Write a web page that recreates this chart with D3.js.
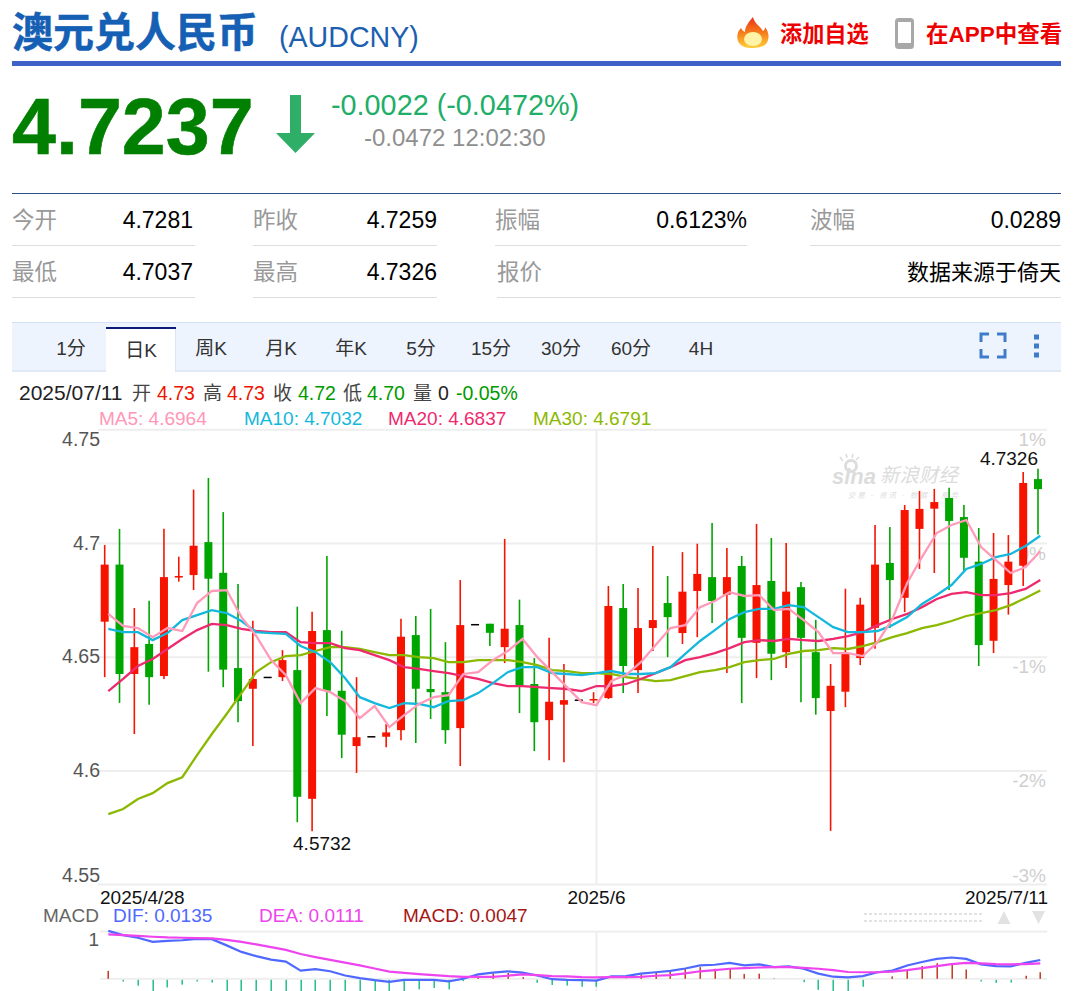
<!DOCTYPE html>
<html lang="zh-CN">
<head>
<meta charset="utf-8">
<title>澳元兑人民币 (AUDCNY)</title>
<script src="https://cdnjs.cloudflare.com/ajax/libs/d3/7.9.0/d3.min.js"></script>
<style>
  html, body { margin: 0; padding: 0; background: #fff; overflow: hidden; }
  svg { display: block; }
  text { font-family: "Liberation Sans", "Noto Sans CJK SC", sans-serif; }
</style>
</head>
<body>
<div id="quote"></div>
<script>
// Daily candles, oldest first
const candleOpen = [4.6654,4.6905,4.6424,4.6556,4.6415,4.6848,4.6859,4.7004,4.6869,4.6450,4.6359,4.6412,4.6410,4.6441,4.5875,4.6617,4.6350,4.6107,4.6151,4.6148,4.6177,4.6595,4.6358,4.6344,4.6186,4.6644,4.6645,4.6542,4.6639,4.6380,4.6221,4.6289,4.6312,4.6309,4.6318,4.6714,4.6441,4.6626,4.6736,4.6604,4.6789,4.6850,4.6773,4.6899,4.6561,4.6833,4.6520,4.6806,4.6520,4.6261,4.6346,4.6494,4.6627,4.6912,4.6759,4.7062,4.7151,4.7198,4.7114,4.6918,4.6570,4.6815,4.6900,4.7281];
const candleClose = [4.6905,4.6424,4.6542,4.6410,4.6850,4.6855,4.6988,4.6843,4.6443,4.6305,4.6402,4.6412,4.6485,4.5884,4.6613,4.6350,4.6157,4.6146,4.6151,4.6167,4.6588,4.6359,4.6344,4.6177,4.6639,4.6644,4.6605,4.6623,4.6375,4.6212,4.6302,4.6309,4.6312,4.6314,4.6723,4.6459,4.6626,4.6661,4.6674,4.6786,4.6864,4.6745,4.6850,4.6583,4.6815,4.6513,4.6786,4.6583,4.6318,4.6372,4.6512,4.6729,4.6905,4.6837,4.7145,4.7150,4.7180,4.7097,4.6935,4.6551,4.6842,4.6918,4.7264,4.7237];
const candleHigh = [4.6991,4.7062,4.6714,4.6746,4.7063,4.6940,4.7235,4.7286,4.7136,4.6820,4.6658,4.6412,4.6529,4.6720,4.6698,4.6943,4.6614,4.6410,4.6151,4.6204,4.6667,4.6679,4.6710,4.6564,4.6837,4.6644,4.6645,4.7018,4.6751,4.6494,4.6583,4.6468,4.6312,4.6344,4.6811,4.6820,4.6802,4.6987,4.6855,4.6960,4.6997,4.7088,4.6978,4.6943,4.7084,4.7022,4.7000,4.6828,4.6662,4.6468,4.6799,4.6759,4.7079,4.7070,4.7167,4.7229,4.7238,4.7243,4.7167,4.7066,4.7044,4.7035,4.7312,4.7326];
const candleLow = [4.6410,4.6297,4.6160,4.6289,4.6402,4.6830,4.6793,4.6434,4.6366,4.6212,4.6107,4.6412,4.6393,4.5772,4.5732,4.6239,4.6054,4.5989,4.6151,4.6102,4.6133,4.6120,4.6226,4.6117,4.6019,4.6644,4.6547,4.6472,4.6252,4.6085,4.6045,4.6036,4.6312,4.6296,4.6314,4.6340,4.6340,4.6525,4.6498,4.6556,4.6586,4.6648,4.6428,4.6296,4.6406,4.6397,4.6450,4.6300,4.6245,4.5734,4.6278,4.6463,4.6535,4.6626,4.6696,4.6886,4.6868,4.6793,4.6874,4.6459,4.6516,4.6685,4.6811,4.7037];

// Moving averages of the close
const ma5 = [4.6688,4.6635,4.6626,4.6586,4.6626,4.6613,4.6736,4.6789,4.6793,4.6674,4.6591,4.6485,4.6419,4.6296,4.6362,4.6344,4.6305,4.6230,4.6283,4.6190,4.6243,4.6292,4.6322,4.6331,4.6424,4.6432,4.6485,4.6525,4.6578,4.6498,4.6432,4.6366,4.6300,4.6287,4.6393,4.6419,4.6476,4.6551,4.6626,4.6639,4.6718,4.6745,4.6784,4.6767,4.6771,4.6705,4.6710,4.6661,4.6608,4.6516,4.6516,4.6503,4.6564,4.6666,4.6824,4.6938,4.7044,4.7079,4.7101,4.6982,4.6925,4.6868,4.6894,4.6964];
const ma10 = [4.6622,4.6608,4.6608,4.6573,4.6604,4.6661,4.6683,4.6705,4.6692,4.6657,4.6608,4.6604,4.6600,4.6547,4.6520,4.6476,4.6406,4.6322,4.6296,4.6274,4.6296,4.6292,4.6278,4.6305,4.6309,4.6340,4.6384,4.6432,4.6454,4.6454,4.6428,4.6424,4.6419,4.6428,4.6437,4.6424,4.6424,4.6428,4.6454,4.6512,4.6569,4.6617,4.6666,4.6696,4.6710,4.6710,4.6727,4.6718,4.6674,4.6630,4.6608,4.6608,4.6613,4.6639,4.6674,4.6732,4.6771,4.6815,4.6886,4.6908,4.6938,4.6952,4.6987,4.7032];
const ma20 = [4.6349,4.6402,4.6459,4.6490,4.6534,4.6578,4.6617,4.6644,4.6639,4.6622,4.6613,4.6608,4.6608,4.6564,4.6560,4.6560,4.6538,4.6529,4.6507,4.6485,4.6454,4.6446,4.6437,4.6428,4.6415,4.6402,4.6384,4.6371,4.6371,4.6366,4.6362,4.6358,4.6349,4.6371,4.6371,4.6380,4.6402,4.6428,4.6454,4.6485,4.6498,4.6516,4.6538,4.6564,4.6573,4.6569,4.6578,4.6573,4.6569,4.6578,4.6591,4.6608,4.6639,4.6666,4.6688,4.6718,4.6754,4.6776,4.6784,4.6771,4.6771,4.6780,4.6798,4.6837];
const ma30 = [4.5808,4.5830,4.5874,4.5900,4.5944,4.5970,4.6067,4.6160,4.6248,4.6340,4.6432,4.6476,4.6503,4.6507,4.6525,4.6542,4.6542,4.6534,4.6520,4.6507,4.6507,4.6498,4.6494,4.6476,4.6476,4.6485,4.6485,4.6485,4.6476,4.6463,4.6441,4.6437,4.6428,4.6428,4.6424,4.6410,4.6402,4.6393,4.6397,4.6415,4.6432,4.6441,4.6454,4.6476,4.6485,4.6490,4.6512,4.6525,4.6529,4.6538,4.6534,4.6547,4.6564,4.6586,4.6604,4.6626,4.6639,4.6657,4.6679,4.6692,4.6705,4.6727,4.6758,4.6791];

// MACD panel, in units of 0.0001
const dif = [344,314,295,265,272,277,287,285,240,193,163,138,124,59,69,54,24,5,-10,-22,-8,-8,-8,-18,0,32,44,54,44,24,-3,-8,-10,-13,17,19,37,47,57,74,96,101,114,96,104,84,89,72,37,15,10,19,47,59,96,121,143,153,143,104,91,89,114,135];
const dea = [319,314,309,302,297,295,292,290,280,265,247,228,208,178,156,136,116,96,74,52,42,34,27,19,14,14,14,22,32,27,19,17,12,10,12,12,14,22,27,39,54,62,72,77,81,84,84,79,72,62,49,47,47,52,62,77,91,106,114,111,106,104,106,111];
const macdHist = [57,-12,-42,-84,-55,-35,-12,-20,-84,-149,-173,-183,-173,-243,-178,-168,-188,-188,-173,-154,-84,-69,-59,-69,-10,17,37,42,12,-22,-37,-42,-50,-50,0,2,30,42,55,72,84,72,74,35,37,3,0,-17,-72,-94,-87,-50,0,17,67,92,112,102,67,-12,-22,-20,22,47];

// Axis and label text
const priceTicks = [4.75, 4.7, 4.65, 4.6, 4.55];
const percentLabels = ["1%", "0%", "-1%", "-2%", "-3%"];
const dateLabels = [{ i: 0, text: "2025/4/28" }, { i: 33, text: "2025/6" }, { i: 63, text: "2025/7/11" }];
const tabLabels = ["1分", "日K", "周K", "月K", "年K", "5分", "15分", "30分", "60分", "4H"];
const statsRows = [
  [["今开", "4.7281", 12, 193], ["昨收", "4.7259", 253, 437], ["振幅", "0.6123%", 495, 747], ["波幅", "0.0289", 810, 1061]],
  [["最低", "4.7037", 12, 193], ["最高", "4.7326", 253, 437], ["报价", "数据来源于倚天", 497, 1061]]
];
const maLegend = [
  ["MA5: 4.6964", 99, "#ff96b9"], ["MA10: 4.7032", 244, "#14b8dc"],
  ["MA20: 4.6837", 388, "#ee2a6e"], ["MA30: 4.6791", 533, "#8bb800"]
];
const macdLegend = [
  ["MACD", 43, "#666"], ["DIF: 0.0135", 113, "#4f68ff"],
  ["DEA: 0.0111", 259, "#ee44ee"], ["MACD: 0.0047", 403, "#a51515"]
];
const dayInfo = [
  ["2025/07/11", 19, "#222", 21], ["开", 132, "#444", 19], ["4.73", 157, "#f01400", 19.5],
  ["高", 203, "#444", 19], ["4.73", 227, "#f01400", 19.5], ["收", 273, "#444", 19],
  ["4.72", 298, "#009a00", 19.5], ["低", 343, "#444", 19], ["4.70", 367, "#009a00", 19.5],
  ["量", 413, "#444", 19], ["0", 438, "#222", 19.5], ["-0.05%", 456, "#009a00", 19.5]
];

const RED = "#f61400", GREEN = "#00a600", GRID = "#eeeeee";
const svg = d3.select("#quote").append("svg").attr("width", 1080).attr("height", 991);

const label = (g, t, x, y, size, fill, o = {}) => g.append("text")
  .attr("x", x).attr("y", y).attr("font-size", size).attr("fill", fill)
  .attr("text-anchor", o.anchor || "start").attr("font-weight", o.weight || "normal").text(t);

// ---- Page header ----
const head = svg.append("g");
label(head, "澳元兑人民币", 12, 47, 41, "#1560b4", { weight: "bold" }).attr("stroke", "#1560b4").attr("stroke-width", 0.5);
label(head, "(AUDCNY)", 279, 47, 28.6, "#1c5fb0");
head.append("rect").attr("x", 12).attr("y", 61).attr("width", 1049).attr("height", 5).attr("fill", "#3f62c9");

const defs = svg.append("defs");
const flame = defs.append("linearGradient").attr("id", "flame").attr("x1", 0).attr("y1", 1).attr("x2", 0).attr("y2", 0);
flame.append("stop").attr("offset", "0").attr("stop-color", "#ffcf3a");
flame.append("stop").attr("offset", "0.55").attr("stop-color", "#f5741a");
flame.append("stop").attr("offset", "1").attr("stop-color", "#e8321a");
head.append("path").attr("fill", "url(#flame)")
  .attr("d", "M753 17c1 6 7 9 10 14 2-1 2-3 2-4 4 5 5 12 1 17-3 3-7 4-13 4-7 0-11-1-14-5-3-5-2-11 2-15 1 2 2 3 4 4 0-6 4-10 8-15z");
head.append("ellipse").attr("cx", 753).attr("cy", 39).attr("rx", 9).attr("ry", 7).attr("fill", "#fff3a8");
label(head, "添加自选", 780, 42, 22.2, "#ee0000", { weight: "bold" });
head.append("rect").attr("x", 895).attr("y", 18).attr("width", 19).attr("height", 31).attr("rx", 3.5).attr("fill", "#a8a8a8");
head.append("rect").attr("x", 898).attr("y", 22).attr("width", 13).attr("height", 21).attr("fill", "#fff");
label(head, "在APP中查看", 926, 42, 22.5, "#ee0000", { weight: "bold" });

label(head, "4.7237", 12, 154, 79, "#007f00", { weight: "bold" }).attr("stroke", "#007f00").attr("stroke-width", 0.6);
head.append("path").attr("fill", "#2fae67")
  .attr("d", "M290 95h11v38h14l-19.5 20-19.5-20h14z");
label(head, "-0.0022 (-0.0472%)", 331, 115, 28.8, "#20ae68");
label(head, "-0.0472 12:02:30", 364, 146, 24, "#8f8f8f");

// ---- Quote statistics ----
const stats = svg.append("g");
stats.append("rect").attr("x", 12).attr("y", 193).attr("width", 1049).attr("height", 1).attr("fill", "#2a4f8f");
[[245, 12, 195], [245, 253, 437], [245, 495, 747], [245, 810, 1061], [297, 12, 195], [297, 253, 437], [297, 497, 1061]]
  .forEach(([y, x1, x2]) => stats.append("rect").attr("x", x1).attr("y", y).attr("width", x2 - x1).attr("height", 1).attr("fill", "#dddddd"));
statsRows.forEach((row, r) => row.forEach(([name, val, x1, x2]) => {
  const y = 228 + r * 52;
  const isText = /[^\d.%]/.test(val);
  label(stats, name, x1, y, 22.5, "#999");
  label(stats, val, x2, y, isText ? 22 : 23, "#000", { anchor: "end" });
}));

// ---- Period tabs ----
const tabs = svg.append("g");
tabs.append("rect").attr("x", 12).attr("y", 322).attr("width", 1049).attr("height", 50).attr("fill", "#eef4fe");
tabs.append("rect").attr("x", 12).attr("y", 322).attr("width", 1049).attr("height", 1).attr("fill", "#d3e0f2");
tabs.append("rect").attr("x", 12).attr("y", 370).attr("width", 1049).attr("height", 2).attr("fill", "#e0e9f6");
tabs.append("rect").attr("x", 106).attr("y", 327).attr("width", 70).attr("height", 45).attr("fill", "#fff");
tabs.append("rect").attr("x", 106).attr("y", 327).attr("width", 70).attr("height", 2).attr("fill", "#0b1c78");
tabs.append("rect").attr("x", 175).attr("y", 329).attr("width", 1).attr("height", 43).attr("fill", "#dbe5f3");
const tabX = d3.scalePoint().domain(tabLabels).range([71, 701]);
tabLabels.forEach((t, i) => label(tabs, t, tabX(t), i === 1 ? 357 : 355, 19, "#333", { anchor: "middle" }));
tabs.append("path").attr("fill", "none").attr("stroke", "#3e7ccb").attr("stroke-width", 3)
  .attr("d", "M981 342v-8h8M997 334h8v8M1005 349v8h-8M989 357h-8v-8");
[337, 346, 355].forEach(y => tabs.append("rect").attr("x", 1034).attr("y", y - 2.5).attr("width", 5).attr("height", 5).attr("fill", "#3e7ccb"));

// ---- Selected-day summary and legends ----
const legends = svg.append("g");
dayInfo.forEach(([t, x, c, s]) => label(legends, t, x, 400, s, c));
maLegend.forEach(([t, x, c]) => label(legends, t, x, 425, 19, c));
macdLegend.forEach(([t, x, c]) => label(legends, t, x, 922, 19, c));

// ---- Scales ----
const days = d3.range(candleOpen.length);
const x = d3.scaleLinear().domain([0, 63]).range([104.7, 1038]);
const xLine = d3.scaleLinear().domain([0, 63]).range([108.3, 1040.3]);
const y = d3.scaleLinear().domain([4.55, 4.75]).range([884.1, 429.3]);
const yMacd = d3.scaleLinear().domain([0, 339]).range([978.8, 931.6]);

// ---- Price panel ----
const panel = svg.append("g");
panel.append("g").attr("transform", "translate(1047,0)").call(g => {
  g.call(d3.axisRight(y).tickValues(priceTicks).tickSize(-949).tickFormat(""));
  g.select(".domain").remove();
  g.selectAll("line").attr("stroke", GRID).attr("stroke-width", 2);
});
panel.append("line").attr("x1", 596.5).attr("x2", 596.5).attr("y1", y(4.75)).attr("y2", y(4.55)).attr("stroke", GRID).attr("stroke-width", 2);

panel.append("g").attr("transform", "translate(100,0)").call(g => {
  g.call(d3.axisLeft(y).tickValues(priceTicks).tickSize(0).tickPadding(0).tickFormat(d => String(+d.toFixed(2))));
  g.select(".domain").remove();
  g.selectAll("text").attr("font-size", 19.5).attr("fill", "#555").attr("font-family", null);
  g.selectAll(".tick text").attr("dy", "0.32em").attr("transform", d => `translate(0,${d === 4.75 ? 10 : d === 4.55 ? -9 : 0})`);
});
panel.append("g").attr("transform", "translate(1046,0)").call(g => {
  g.call(d3.axisLeft(y).tickValues(priceTicks).tickSize(0).tickPadding(0).tickFormat((d, i) => percentLabels[i]));
  g.select(".domain").remove();
  g.selectAll("text").attr("font-size", 19).attr("fill", "#cfcfcf").attr("font-family", null);
  g.selectAll(".tick text").attr("dy", "0.32em").attr("transform", d => `translate(0,${d === 4.55 ? -9 : 10})`);
});

// Watermark
const mark = panel.append("g").attr("fill", "#dcdcdc");
mark.append("text").attr("x", 832).attr("y", 484).attr("font-size", 22).attr("font-weight", "bold").attr("font-style", "italic").text("sina");
mark.append("text").attr("x", 880).attr("y", 482).attr("font-size", 19.5).attr("font-style", "italic").text("新浪财经");
mark.append("text").attr("x", 848).attr("y", 498).attr("font-size", 7.5).attr("font-style", "italic")
  .attr("textLength", 110).text("交易 · 资讯 · 数据 · 服务");
mark.append("circle").attr("cx", 851).attr("cy", 466).attr("r", 5.5).attr("fill", "none").attr("stroke", "#dcdcdc").attr("stroke-width", 3);
mark.append("path").attr("fill", "none").attr("stroke", "#dcdcdc").attr("stroke-width", 1.5).attr("d", "M843 461l-3-4M847 458l-1-4M852 458l1-4M856 460l3-3");

// Candles: up days in red, down days in green, unchanged days as a short black dash
const candleColor = i => candleClose[i] > candleOpen[i] ? RED : candleClose[i] < candleOpen[i] ? GREEN : "#000";
const candles = panel.append("g").selectAll("g").data(days).join("g");
candles.filter(i => candleHigh[i] > candleLow[i]).append("line")
  .attr("x1", i => x(i)).attr("x2", i => x(i))
  .attr("y1", i => y(candleHigh[i])).attr("y2", i => y(candleLow[i]))
  .attr("stroke", candleColor).attr("stroke-width", 1.6);
candles.append("rect")
  .attr("x", i => x(i) - 4).attr("width", 8)
  .attr("y", i => y(Math.max(candleOpen[i], candleClose[i])))
  .attr("height", i => Math.max(1.5, Math.abs(y(candleOpen[i]) - y(candleClose[i]))))
  .attr("fill", candleColor);

// Moving-average lines
const maLine = d3.line().x((d, i) => xLine(i)).y(d => y(d));
[[ma30, "#8bb800"], [ma20, "#ee2a6e"], [ma10, "#14b8dc"], [ma5, "#ff9ab9"]].forEach(([s, c]) =>
  panel.append("path").attr("d", maLine(s)).attr("fill", "none").attr("stroke", c).attr("stroke-width", 2.3));

// Extreme-value callouts
const topIdx = d3.greatestIndex(candleHigh), lowIdx = d3.leastIndex(candleLow);
label(panel, candleHigh[topIdx].toFixed(4), x(topIdx), y(candleHigh[topIdx]) - 4, 19, "#111", { anchor: "end" });
label(panel, candleLow[lowIdx].toFixed(4), x(lowIdx) + 10, y(candleLow[lowIdx]) + 19, 19, "#111", { anchor: "middle" });

// Date labels along the bottom of the price panel, kept clear of the MACD legend below
dateLabels.forEach((d, k) => label(panel, d.text, k === 0 ? 100 : k === 2 ? 1048 : xLine(d.i), 904, 19, "#111",
  { anchor: k === 0 ? "start" : k === 2 ? "end" : "middle" }));

// Range-slider handles beside the MACD legend
const slider = svg.append("g").attr("fill", "#e2e2e2");
[914, 921].forEach(yy => d3.range(864, 982, 5).forEach(xx => slider.append("rect").attr("x", xx).attr("y", yy - 1).attr("width", 3).attr("height", 2)));
slider.append("path").attr("d", "M1004 911l6.5 13h-13z");
slider.append("path").attr("d", "M1032 911h13l-6.5 13z");

// ---- MACD panel ----
const macd = svg.append("g");
macd.append("rect").attr("x", 100).attr("y", 930.6).attr("width", 947).attr("height", 2).attr("fill", GRID);
macd.append("rect").attr("x", 100).attr("y", 977.8).attr("width", 947).attr("height", 2).attr("fill", GRID);
macd.append("rect").attr("x", 595.5).attr("y", 931).attr("width", 2).attr("height", 60).attr("fill", GRID);
label(macd, "1", 99, 946, 19, "#555", { anchor: "end" });

macd.append("g").selectAll("rect").data(days.filter(i => macdHist[i] !== 0)).join("rect")
  .attr("x", i => Math.round(xLine(i)) - 0.5).attr("width", 1.4)
  .attr("y", i => macdHist[i] > 0 ? yMacd(macdHist[i]) : yMacd(0) + 1)
  .attr("height", i => Math.abs(yMacd(macdHist[i]) - yMacd(0)))
  .attr("fill", i => macdHist[i] > 0 ? "#bf2a12" : "#14ba82");

const macdLine = d3.line().x((d, i) => xLine(i)).y(d => yMacd(d));
macd.append("path").attr("d", macdLine(dif)).attr("fill", "none").attr("stroke", "#4f68ff").attr("stroke-width", 2.2);
macd.append("path").attr("d", macdLine(dea)).attr("fill", "none").attr("stroke", "#ee44ee").attr("stroke-width", 2.2);
</script>
</body>
</html>
